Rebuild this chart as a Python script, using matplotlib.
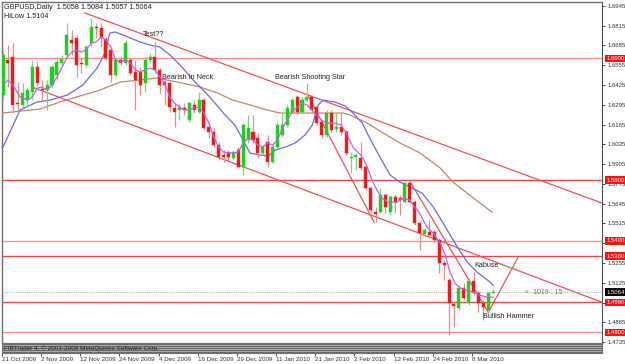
import numpy as np
import matplotlib
matplotlib.use("Agg")
import matplotlib.pyplot as plt
import matplotlib.transforms as mtransforms

plt.rcParams['font.family'] = ['Liberation Sans', 'DejaVu Sans']

# GBPUSD daily, 21 Oct 2009 .. 12 Mar 2010 (bar index 0..100)
opens = [1.6359, 1.6590, 1.6609, 1.6307, 1.6294, 1.6326, 1.6379, 1.6543, 1.6399, 1.6392,
         1.6425, 1.6491, 1.6570, 1.6622, 1.6721, 1.6734, 1.6570, 1.6557, 1.6702, 1.6807,
         1.6800, 1.6728, 1.6655, 1.6491, 1.6590, 1.6570, 1.6590, 1.6511, 1.6511, 1.6438,
         1.6590, 1.6609, 1.6524, 1.6445, 1.6438, 1.6274, 1.6261, 1.6274, 1.6195, 1.6294,
         1.6248, 1.6326, 1.6149, 1.6116, 1.6030, 1.5965, 1.5978, 1.5945, 1.5997, 1.5886,
         1.6063, 1.6116, 1.6076, 1.5978, 1.6050, 1.5919, 1.6017, 1.6096, 1.6162, 1.6248,
         1.6346, 1.6248, 1.6326, 1.6346, 1.6280, 1.6182, 1.6096, 1.6241, 1.6136, 1.6149,
         1.6116, 1.5945, 1.5951, 1.5945, 1.5886, 1.5747, 1.5589, 1.5589, 1.5701, 1.5589,
         1.5688, 1.5682, 1.5655, 1.5780, 1.5655, 1.5517, 1.5445, 1.5458, 1.5458, 1.5405,
         1.5254, 1.5142, 1.4984, 1.4958, 1.5089, 1.4991, 1.5135, 1.5057, 1.4991, 1.4945,
         1.5058]
closes = [1.6622, 1.6570, 1.6294, 1.6300, 1.6373, 1.6392, 1.6543, 1.6438, 1.6392, 1.6425,
          1.6543, 1.6577, 1.6596, 1.6754, 1.6702, 1.6557, 1.6563, 1.6675, 1.6807, 1.6800,
          1.6734, 1.6603, 1.6491, 1.6590, 1.6570, 1.6702, 1.6504, 1.6458, 1.6425, 1.6590,
          1.6609, 1.6524, 1.6425, 1.6425, 1.6280, 1.6248, 1.6274, 1.6261, 1.6307, 1.6261,
          1.6326, 1.6142, 1.6116, 1.6030, 1.5951, 1.5951, 1.5951, 1.5984, 1.5886, 1.6162,
          1.6142, 1.6063, 1.5978, 1.6017, 1.5919, 1.6017, 1.6162, 1.6162, 1.6274, 1.6326,
          1.6248, 1.6326, 1.6346, 1.6261, 1.6175, 1.6096, 1.6241, 1.6129, 1.6149, 1.6116,
          1.5978, 1.5951, 1.5965, 1.5879, 1.5747, 1.5603, 1.5576, 1.5701, 1.5622, 1.5688,
          1.5655, 1.5668, 1.5780, 1.5655, 1.5517, 1.5451, 1.5471, 1.5438, 1.5405, 1.5254,
          1.5241, 1.4991, 1.4971, 1.5089, 1.5024, 1.5135, 1.5057, 1.4991, 1.4964, 1.5057,
          1.5064]
highs = [1.6642, 1.6688, 1.6702, 1.6445, 1.6438, 1.6412, 1.6590, 1.6577, 1.6458, 1.6458,
         1.6563, 1.6609, 1.6622, 1.6833, 1.6787, 1.6754, 1.6603, 1.6688, 1.6866, 1.6833,
         1.6833, 1.6741, 1.6675, 1.6609, 1.6609, 1.6721, 1.6609, 1.6590, 1.6543, 1.6609,
         1.6636, 1.6708, 1.6537, 1.6478, 1.6445, 1.6307, 1.6307, 1.6307, 1.6313, 1.6326,
         1.6379, 1.6340, 1.6175, 1.6142, 1.6050, 1.5997, 1.5997, 1.5997, 1.6017, 1.6175,
         1.6228, 1.6228, 1.6109, 1.6030, 1.6096, 1.6044, 1.6182, 1.6241, 1.6294, 1.6340,
         1.6359, 1.6346, 1.6438, 1.6359, 1.6294, 1.6195, 1.6261, 1.6261, 1.6241, 1.6241,
         1.6129, 1.5984, 1.5978, 1.6050, 1.5899, 1.5754, 1.5622, 1.5747, 1.5714, 1.5701,
         1.5701, 1.5701, 1.5787, 1.5800, 1.5668, 1.5524, 1.5484, 1.5537, 1.5471, 1.5418,
         1.5274, 1.5155, 1.4997, 1.5109, 1.5122, 1.5155, 1.5195, 1.5070, 1.5010, 1.5063,
         1.5084]
lows = [1.6326, 1.6412, 1.6241, 1.6241, 1.6274, 1.6280, 1.6326, 1.6419, 1.6326, 1.6261,
        1.6405, 1.6458, 1.6550, 1.6609, 1.6622, 1.6478, 1.6504, 1.6537, 1.6675, 1.6734,
        1.6675, 1.6590, 1.6445, 1.6478, 1.6557, 1.6557, 1.6491, 1.6261, 1.6359, 1.6379,
        1.6577, 1.6504, 1.6373, 1.6294, 1.6248, 1.6149, 1.6195, 1.6228, 1.6182, 1.6241,
        1.6241, 1.6129, 1.6076, 1.6017, 1.5932, 1.5919, 1.5932, 1.5932, 1.5879, 1.5833,
        1.6044, 1.6044, 1.5945, 1.5965, 1.5886, 1.5912, 1.6011, 1.6083, 1.6149, 1.6241,
        1.6228, 1.6241, 1.6313, 1.6241, 1.6162, 1.6076, 1.6083, 1.6116, 1.6116, 1.6096,
        1.5965, 1.5846, 1.5866, 1.5866, 1.5734, 1.5589, 1.5524, 1.5583, 1.5583, 1.5570,
        1.5583, 1.5570, 1.5649, 1.5649, 1.5504, 1.5340, 1.5432, 1.5425, 1.5392, 1.5188,
        1.5142, 1.4780, 1.4833, 1.4945, 1.5010, 1.4977, 1.5043, 1.4931, 1.4879, 1.4931,
        1.5057]

# moving averages (bar index, price)
ma_fast_x = [0, 1, 2, 3.5, 5, 6, 7, 8, 9, 10, 11, 12, 13, 14, 15, 16, 17, 18, 19, 20,
             21, 22, 23, 24, 25, 26, 27, 28, 29, 30, 31, 32, 33, 34, 35, 36, 37, 38, 39, 40,
             41, 42, 43, 44, 45, 47, 48, 49, 50, 51, 52, 53, 54, 55, 56, 57, 58, 59, 60, 61,
             62, 63, 65, 66, 67.5, 69, 70, 71.5, 73, 74, 75.3, 76.3, 77.3, 78.6, 80.4, 81.6,
             83, 84, 85, 86.5, 87.8, 89.2, 90.2, 91.2, 92.2, 93.3, 94.7, 95.9, 97.3, 98.8, 100]
ma_fast_y = [1.6425, 1.6458, 1.6425, 1.6346, 1.6326, 1.6346, 1.6405, 1.6412, 1.6392, 1.6425,
             1.6478, 1.6537, 1.6603, 1.6642, 1.6655, 1.6642, 1.6655, 1.6702, 1.6708, 1.6741,
             1.6721, 1.6675, 1.6590, 1.6577, 1.6590, 1.6570, 1.6524, 1.6511, 1.6524, 1.6537,
             1.6524, 1.6478, 1.6438, 1.6346, 1.6307, 1.6280, 1.6261, 1.6261, 1.6274, 1.6280,
             1.6241, 1.6175, 1.6083, 1.6017, 1.5984, 1.5978, 1.5984, 1.6044, 1.6076, 1.6063,
             1.6030, 1.6017, 1.6044, 1.6030, 1.6063, 1.6142, 1.6195, 1.6248, 1.6280, 1.6307,
             1.6294, 1.6261, 1.6195, 1.6175, 1.6175, 1.6162, 1.6109, 1.6011, 1.5965, 1.5912,
             1.5800, 1.5734, 1.5682, 1.5655, 1.5655, 1.5682, 1.5668, 1.5622, 1.5583, 1.5490,
             1.5451, 1.5385, 1.5307, 1.5195, 1.5122, 1.5089, 1.5076, 1.5063, 1.5043, 1.5030,
             1.5030]
ma_mid_x = [0, 3.5, 6.9, 9.6, 13.1, 16.3, 19.2, 20.8, 21.8, 22.9, 24.9, 28, 30, 32, 34.1,
            36.1, 38.8, 42.2, 45.3, 47.3, 49, 50.4, 52.4, 54.1, 55.5, 57.6, 59.6, 61.6, 63.1,
            64.3, 65.3, 67.8, 69.8, 71.4, 73.3, 74.5, 76.9, 79, 81, 83.1, 85.5, 87.8, 89.8,
            92.7, 94.7, 96.7, 99.4, 100]
ma_mid_y = [1.6017, 1.6261, 1.6313, 1.6326, 1.6359, 1.6425, 1.6537, 1.6636, 1.6767, 1.6774,
            1.6748, 1.6708, 1.6688, 1.6675, 1.6622, 1.6557, 1.6458, 1.6346, 1.6228, 1.6162,
            1.6063, 1.5978, 1.5965, 1.5958, 1.5997, 1.6017, 1.6044, 1.6096, 1.6162, 1.6294,
            1.6326, 1.6313, 1.6287, 1.6241, 1.6175, 1.6096, 1.5951, 1.5833, 1.5787, 1.5754,
            1.5714, 1.5622, 1.5517, 1.5359, 1.5261, 1.5195, 1.5129, 1.5109]
ma_slow_x = [0, 3.5, 7.6, 11.6, 15.7, 19.8, 23.9, 28, 31.4, 35.5, 40.2, 43.7, 46.9, 50.4,
             53.9, 56.5, 60.6, 64.7, 69.4, 70.8, 74.3, 77.6, 81, 85.1, 89.2, 91.8, 94.7,
             97.3, 99.8]
ma_slow_y = [1.6241, 1.6254, 1.6268, 1.6313, 1.6353, 1.6392, 1.6445, 1.6458, 1.6471, 1.6445,
             1.6412, 1.6373, 1.6326, 1.6294, 1.6261, 1.6241, 1.6241, 1.6241, 1.6241, 1.6228,
             1.6175, 1.6109, 1.6044, 1.5978, 1.5879, 1.5787, 1.5714, 1.5649, 1.5589]

# drawn objects
levels = [1.6600, 1.5800, 1.5400, 1.5300, 1.4996, 1.4800]
level_colors = ['#ff8c8c', '#f04848', '#ff8c8c', '#f04848', '#f04848', '#ff8c8c']
last_price = 1.5064
trend_lines = [((16.7, 1.6899), (122.2, 1.5649)),
               ((5.9, 1.6412), (122.2, 1.4997)),
               ((62.2, 1.6359), (75.7, 1.5524)),
               ((83.1, 1.5787), (99.0, 1.4931)),
               ((99.0, 1.4931), (105.1, 1.5293))]
date_labels = ['21 Oct 2009', '2 Nov 2009', '12 Nov 2009', '24 Nov 2009', '4 Dec 2009',
               '16 Dec 2009', '29 Dec 2009', '11 Jan 2010', '21 Jan 2010', '2 Feb 2010',
               '12 Feb 2010', '24 Feb 2010', '8 Mar 2010']
price_ticks = [1.6945, 1.6815, 1.6685, 1.6555, 1.6425, 1.6295, 1.6165, 1.6035, 1.5905,
               1.5775, 1.5645, 1.5515, 1.5385, 1.5255, 1.5125, 1.4995, 1.4865, 1.4735]
notes = [(28.5, 1.6745, 'Test??'), (32.5, 1.6465, 'Bearish In Neck'),
         (55.5, 1.6465, 'Bearish Shooting Star'), (96.2, 1.5228, 'Kabuse'),
         (98.0, 1.4895, 'Bullish Hammer')]

W, H = 625, 364
fig = plt.figure(figsize=(W / 100, H / 100), dpi=100)
fig.patch.set_facecolor('white')
ax = fig.add_axes([2 / W, 1 - 343 / H, 600 / W, 341 / H])
ax.set_xlim(-0.2, 122.2)
ax.set_ylim(1.4729, 1.6971)

x = np.arange(len(opens))
o = np.array(opens); c = np.array(closes)
up = c >= o
body_col = np.where(up, '#1ed01e', '#ee1a1a')
wick_col = np.where(up, '#7ed47e', '#ec8a8a')

for lv, col in zip(levels, level_colors):
    ax.axhline(lv, color=col, lw=1.0, zorder=1)
ax.axhline(last_price, color='#b8b8b8', lw=0.8, ls=(0, (1, 1)), zorder=1)

for (x0, y0), (x1, y1) in trend_lines:
    ax.plot([x0, x1], [y0, y1], color='#f05050', lw=0.9, zorder=2)

ax.plot(ma_slow_x, ma_slow_y, color='#b88a6a', lw=0.9, zorder=3)
ax.plot(ma_mid_x, ma_mid_y, color='#6868f0', lw=0.9, zorder=3)

ax.vlines(x, lows, highs, colors=wick_col, lw=0.9, zorder=4)
ax.bar(x, np.abs(c - o) + 0.00012, bottom=np.minimum(o, c) - 0.00006, width=0.62,
       color=body_col, edgecolor=body_col, lw=0.3, zorder=5)

ax.plot(ma_fast_x, ma_fast_y, color='#c060e8', lw=0.9, zorder=6)

for xi, yi, t in notes:
    ax.text(xi, yi, t, fontsize=5.2, color='#202020', zorder=7)
ax.text(106.5, last_price, '<  1019 : 15', fontsize=5, color='#707070', va='center', zorder=7)

ax.text(0.003, 0.995, 'GBPUSD,Daily  1.5058 1.5084 1.5057 1.5064', transform=ax.transAxes,
        fontsize=5.2, va='top', color='#202020')
ax.text(0.003, 0.967, 'HiLow 1.5104', transform=ax.transAxes, fontsize=5.2, va='top',
        color='#202020')

ax.set_xticks([])
ax.yaxis.tick_right()
ax.set_yticks(price_ticks)
ax.set_yticklabels(['%.4f' % t for t in price_ticks])
ax.tick_params(axis='y', labelsize=4.3, length=2, width=0.6, pad=2, colors='#303030')
for s in ['left', 'top']:
    ax.spines[s].set_color('#707070')
    ax.spines[s].set_linewidth(1.0)
ax.spines['right'].set_color('#505050')
ax.spines['bottom'].set_visible(False)

trans = mtransforms.blended_transform_factory(ax.transAxes, ax.transData)
for lv in levels:
    ax.text(1.0075, lv, '%.4f' % lv, transform=trans, fontsize=4.3, color='white',
            va='center', ha='left', zorder=8,
            bbox=dict(boxstyle='square,pad=0.2', fc='#ff1010', ec='none'))
ax.text(1.0075, last_price, '%.4f' % last_price, transform=trans, fontsize=4.3, color='white',
        va='center', ha='left', zorder=8,
        bbox=dict(boxstyle='square,pad=0.2', fc='black', ec='none'))

# bottom strip
band = fig.add_axes([2 / W, 1 - 353 / H, 600 / W, 10 / H])
band.set_xlim(-0.2, 122.2)
band.set_ylim(0, 1)
band.set_facecolor('#a8a8a8')
for yy in [0.15, 0.35, 0.55, 0.75, 0.92]:
    band.axhline(yy, color='#606060', lw=0.6)
band.text(0.003, 0.45, 'FIBTrader 4, \u00a9 2001-2008 MetaQuotes Software Corp.', transform=band.transAxes,
          fontsize=4.6, va='center', color='#202020')
band.set_yticks([])
band.set_xticks([8 * k - 0.4 for k in range(len(date_labels))])
band.set_xticklabels(date_labels, ha='left')
band.tick_params(axis='x', labelsize=4.5, length=2, width=0.6, pad=1, colors='#303030')
for s in band.spines.values():
    s.set_color('#707070')

fig.savefig('out.png', dpi=100)
